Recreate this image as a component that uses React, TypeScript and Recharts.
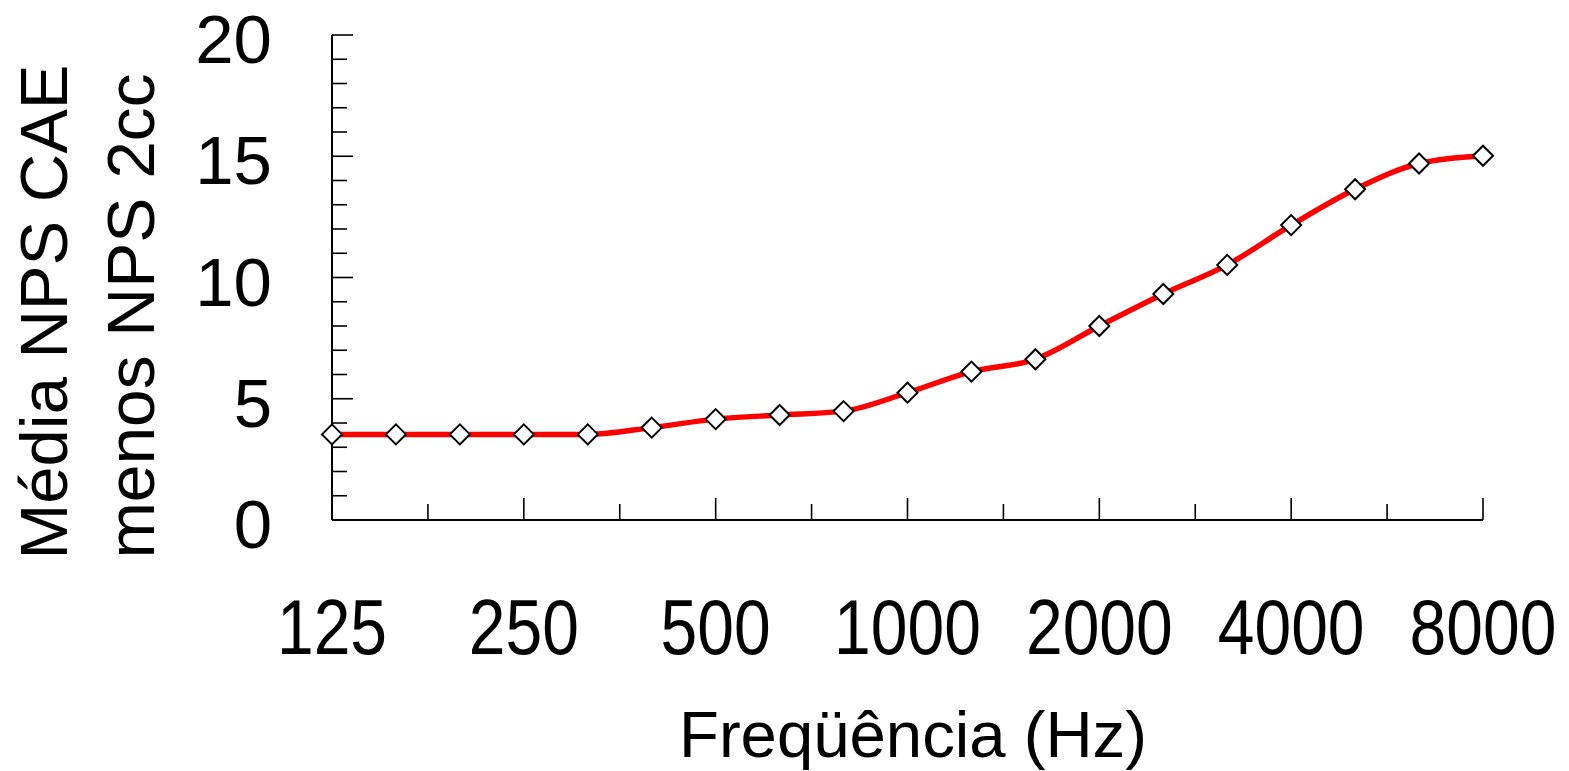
import { LineChart, Line, XAxis, YAxis } from 'recharts';

const frequencies = [125, 160, 200, 250, 315, 400, 500, 630, 800, 1000, 1250, 1600, 2000, 2500, 3150, 4000, 5000, 6300, 8000];
const diffValues = [3.53, 3.53, 3.53, 3.53, 3.53, 3.81, 4.16, 4.33, 4.49, 5.25, 6.12, 6.63, 8.0, 9.32, 10.52, 12.16, 13.64, 14.7, 15.02];

// x ticks every half octave (1.5 third-octave steps), labels only on octaves
const xTicks = [0, 1.5, 3, 4.5, 6, 7.5, 9, 10.5, 12, 13.5, 15, 16.5, 18];
const yTicks = Array.from({ length: 21 }, (_, i) => i);
const yLabels = [0, 5, 10, 15, 20];

const data = frequencies.map((f, i) => ({ idx: i, freq: f, value: diffValues[i] }));

const FONT = '"Liberation Sans", Arial, sans-serif';

const XTick = (props: any) => {
  const { x, y, payload } = props;
  const v = payload.value as number;
  const major = v % 3 === 0;
  const label = major ? String(frequencies[v]) : '';
  return (
    <g>
      <line x1={x} y1={y} x2={x} y2={y - (major ? 22 : 16)} stroke="#000" strokeWidth={1.6} />
      {label && (
        <text
          transform={`translate(${x},${y + 134}) scale(1,1.18)`}
          textAnchor="middle"
          fontSize={66}
          fontFamily={FONT}
          fill="#000"
        >
          {label}
        </text>
      )}
    </g>
  );
};

const YTick = (props: any) => {
  const { x, y, payload } = props;
  const v = payload.value as number;
  const major = yLabels.includes(v);
  return (
    <g>
      <line x1={x} y1={y} x2={x + (major ? 21 : 15)} y2={y} stroke="#000" strokeWidth={1.6} />
      {major && (
        <text x={x - 60} y={y + 28} textAnchor="end" fontSize={69} fontFamily={FONT} fill="#000">
          {v}
        </text>
      )}
    </g>
  );
};

const Diamond = (props: any) => {
  const { cx, cy } = props;
  if (cx == null || cy == null) return null;
  const r = 10;
  return (
    <polygon
      points={`${cx},${cy - r} ${cx + r},${cy} ${cx},${cy + r} ${cx - r},${cy}`}
      fill="#fff"
      stroke="#000"
      strokeWidth={2}
    />
  );
};

export default function App() {
  return (
    <div style={{ position: 'absolute', left: 0, top: 0, width: 1569, height: 771, background: '#fff' }}>
      <LineChart
        width={1569}
        height={771}
        data={data}
        margin={{ top: 35, right: 86, bottom: 191, left: 252 }}
      >
        <XAxis
          dataKey="idx"
          type="number"
          domain={[0, 18]}
          ticks={xTicks}
          interval={0}
          height={60}
          tickSize={0}
          tickMargin={0}
          tickLine={false}
          axisLine={{ stroke: '#000', strokeWidth: 2 }}
          tick={XTick}
          label={() => (
            <text x={913} y={757} textAnchor="middle" fontSize={64} textLength={468} lengthAdjust="spacingAndGlyphs" fontFamily={FONT} fill="#000">
              Freqüência (Hz)
            </text>
          )}
        />
        <YAxis
          type="number"
          domain={[0, 20]}
          ticks={yTicks}
          interval={0}
          width={80}
          tickSize={0}
          tickMargin={0}
          tickLine={false}
          axisLine={{ stroke: '#000', strokeWidth: 2 }}
          tick={YTick}
          label={() => (
            <g>
              <text transform="translate(67,312) rotate(-90)" textAnchor="middle" fontSize={66} textLength={495} lengthAdjust="spacingAndGlyphs" fontFamily={FONT} fill="#000">
                Média NPS CAE
              </text>
              <text transform="translate(154,316) rotate(-90)" textAnchor="middle" fontSize={66} textLength={485} lengthAdjust="spacingAndGlyphs" fontFamily={FONT} fill="#000">
                menos NPS 2cc
              </text>
            </g>
          )}
        />
        <Line
          type="monotone"
          dataKey="value"
          stroke="#ff0000"
          strokeWidth={5.5}
          dot={Diamond}
          activeDot={false}
          isAnimationActive={false}
        />
      </LineChart>
    </div>
  );
}
